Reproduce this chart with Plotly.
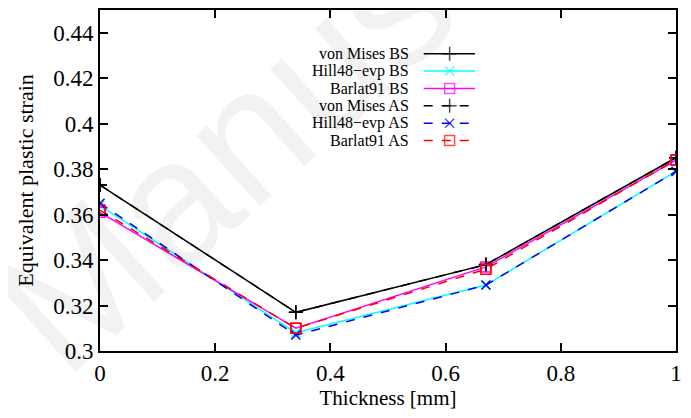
import plotly.graph_objects as go

thickness = [0.0, 0.34, 0.67, 1.0]

vm_bs = [0.373, 0.317, 0.338, 0.385]
hill_bs = [0.364, 0.308, 0.329, 0.379]
barlat_bs = [0.361, 0.310, 0.337, 0.384]
vm_as = [0.373, 0.317, 0.338, 0.385]
hill_as = [0.365, 0.307, 0.329, 0.379]
barlat_as = [0.362, 0.310, 0.336, 0.384]

names = ['von Mises BS', 'Hill48\u2212evp BS', 'Barlat91 BS',
         'von Mises AS', 'Hill48\u2212evp AS', 'Barlat91 AS']
x_ticks = [0, 0.2, 0.4, 0.6, 0.8, 1]
x_ticktext = ['0', '0.2', '0.4', '0.6', '0.8', '1']
y_ticks = [0.3, 0.32, 0.34, 0.36, 0.38, 0.4, 0.42, 0.44]
y_ticktext = ['0.3', '0.32', '0.34', '0.36', '0.38', '0.4', '0.42', '0.44']

FONT = 'Liberation Serif, Times New Roman, serif'
series = [
    (vm_bs, 'black', 'solid', 'cross-thin-open', 10),
    (hill_bs, 'cyan', 'solid', 'x-thin-open', 9),
    (barlat_bs, 'magenta', 'solid', 'square-open', 10),
    (vm_as, 'black', 'dash', 'cross-thin-open', 10),
    (hill_as, 'blue', 'dash', 'x-thin-open', 9),
    (barlat_as, 'red', 'dash', 'square-open', 10),
]

fig = go.Figure()
for (vals, color, dash, sym, size), name in zip(series, names):
    fig.add_trace(go.Scatter(
        x=thickness, y=vals, mode='lines+markers', name=name,
        line=dict(color=color, width=1.5, dash=dash),
        marker=dict(symbol=sym, size=size, color=color,
                    line=dict(color=color, width=1.5)),
        showlegend=False))

# gnuplot-style key: text on the left, sample on the right
key_y = [0.872, 0.821, 0.770, 0.719, 0.668, 0.617]
for (vals, color, dash, sym, size), name, ky in zip(series, names, key_y):
    fig.add_trace(go.Scatter(
        x=[0.562, 0.607, 0.651], y=[ky, ky, ky], xaxis='x2', yaxis='y2',
        mode='lines+markers', showlegend=False, hoverinfo='skip',
        line=dict(color=color, width=1.5, dash=dash),
        marker=dict(symbol=sym, size=[0, size, 0], color=color,
                    line=dict(color=color, width=1.5))))
    fig.add_annotation(x=0.540, y=ky, xref='paper', yref='paper',
                       text=name, showarrow=False, xanchor='right',
                       yanchor='middle',
                       font=dict(family=FONT, size=16, color='black'))

# faint watermark
fig.add_annotation(x=305, y=45, xref='x3', yref='y3', text='Manuscript',
                   showarrow=False, textangle=-42,
                   font=dict(family='Liberation Sans, Arial, sans-serif',
                             size=180, color='rgba(0,0,0,0.05)'))

axis_style = dict(showline=True, linecolor='black', linewidth=2,
                  mirror='ticks', ticks='inside', ticklen=8,
                  tickwidth=1.5, tickcolor='black', showgrid=False,
                  zeroline=False,
                  tickfont=dict(family=FONT, size=23, color='black'))

# page body has an 8px margin, so the figure is sized to fit the window
fig.update_layout(
    width=683, height=410,
    font=dict(family=FONT),
    margin=dict(l=92, r=15, t=0, b=67),
    paper_bgcolor='white', plot_bgcolor='white',
    xaxis=dict(range=[0, 1], tickvals=x_ticks, ticktext=x_ticktext,
               title=dict(text='Thickness [mm]', standoff=4,
                          font=dict(family=FONT, size=21, color='black')),
               **axis_style),
    yaxis=dict(range=[0.3, 0.45], tickvals=y_ticks, ticktext=y_ticktext,
               title=dict(text='Equivalent plastic strain', standoff=13,
                          font=dict(family=FONT, size=22, color='black')),
               **axis_style),
    xaxis2=dict(overlaying='x', range=[0, 1], visible=False),
    yaxis2=dict(overlaying='y', range=[0, 1], visible=False),
    xaxis3=dict(domain=[0, 1], anchor='y3', range=[8, 691], visible=False,
                overlaying='x'),
    yaxis3=dict(domain=[0, 1], anchor='x3', range=[418, 8], visible=False,
                overlaying='y'),
)

fig.write_html('out.html')
